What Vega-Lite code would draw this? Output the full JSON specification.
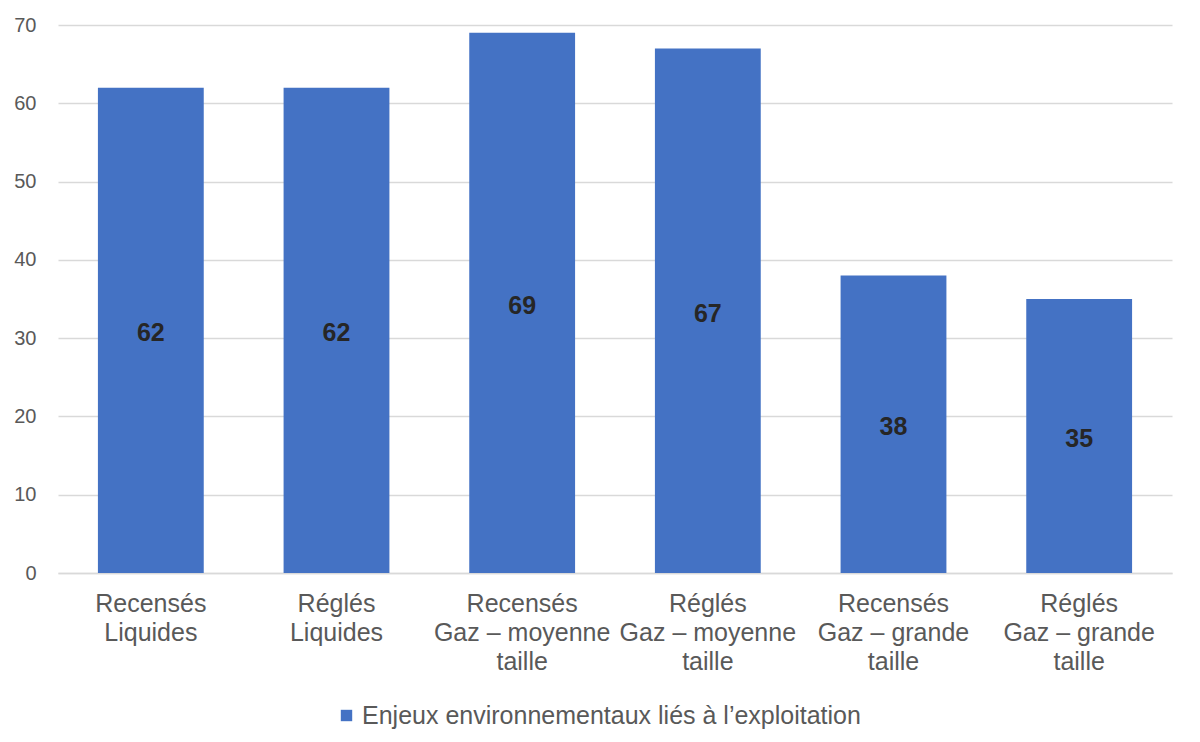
{
  "$schema": "https://vega.github.io/schema/vega-lite/v6.json",
  "autosize": {"type": "none"},
  "width": 1114,
  "height": 548,
  "padding": {"left": 58, "top": 25, "right": 28, "bottom": 169},
  "background": "white",
  "config": {
    "font": "Liberation Sans",
    "view": {"stroke": null}
  },
  "data": {
    "values": [
      {"cat": "Recensés|Liquides", "value": 62, "series": "Enjeux environnementaux liés à l’exploitation"},
      {"cat": "Réglés|Liquides", "value": 62, "series": "Enjeux environnementaux liés à l’exploitation"},
      {"cat": "Recensés|Gaz – moyenne|taille", "value": 69, "series": "Enjeux environnementaux liés à l’exploitation"},
      {"cat": "Réglés|Gaz – moyenne|taille", "value": 67, "series": "Enjeux environnementaux liés à l’exploitation"},
      {"cat": "Recensés|Gaz – grande|taille", "value": 38, "series": "Enjeux environnementaux liés à l’exploitation"},
      {"cat": "Réglés|Gaz – grande|taille", "value": 35, "series": "Enjeux environnementaux liés à l’exploitation"}
    ]
  },
  "encoding": {
    "x": {
      "field": "cat",
      "type": "nominal",
      "sort": null,
      "scale": {"paddingInner": 0.43, "paddingOuter": 0.215},
      "axis": {
        "title": null,
        "labelAngle": 0,
        "labelExpr": "split(datum.label, '|')",
        "labelFontSize": 25,
        "labelColor": "#595959",
        "labelLineHeight": 29,
        "labelPadding": 18,
        "labelBaseline": "top",
        "labelLimit": 0,
        "ticks": false,
        "domain": true,
        "domainColor": "#d9d9d9",
        "domainWidth": 1.5
      }
    }
  },
  "layer": [
    {
      "mark": {"type": "bar", "color": "#4472C4"},
      "encoding": {
        "y": {
          "field": "value",
          "type": "quantitative",
          "scale": {"domain": [0, 70], "nice": false},
          "axis": {
            "title": null,
            "values": [0, 10, 20, 30, 40, 50, 60, 70],
            "labelFontSize": 20,
            "labelColor": "#595959",
            "labelPadding": 22,
            "ticks": false,
            "domain": false,
            "gridColor": "#d9d9d9",
            "gridWidth": 1.5
          }
        },
        "color": {
          "field": "series",
          "type": "nominal",
          "scale": {"range": ["#4472C4"]},
          "legend": {
            "title": null,
            "orient": "none",
            "legendX": 276,
            "legendY": 678,
            "symbolType": "square",
            "symbolSize": 130,
            "symbolStrokeWidth": 0,
            "labelFontSize": 25,
            "labelColor": "#595959",
            "labelOffset": 3,
            "labelLimit": 0
          }
        }
      }
    },
    {
      "transform": [{"calculate": "datum.value / 2", "as": "mid"}],
      "mark": {"type": "text", "fontSize": 25, "fontWeight": "bold", "color": "#262626", "baseline": "middle", "dy": 3},
      "encoding": {
        "y": {"field": "mid", "type": "quantitative"},
        "text": {"field": "value", "type": "quantitative"}
      }
    }
  ]
}
